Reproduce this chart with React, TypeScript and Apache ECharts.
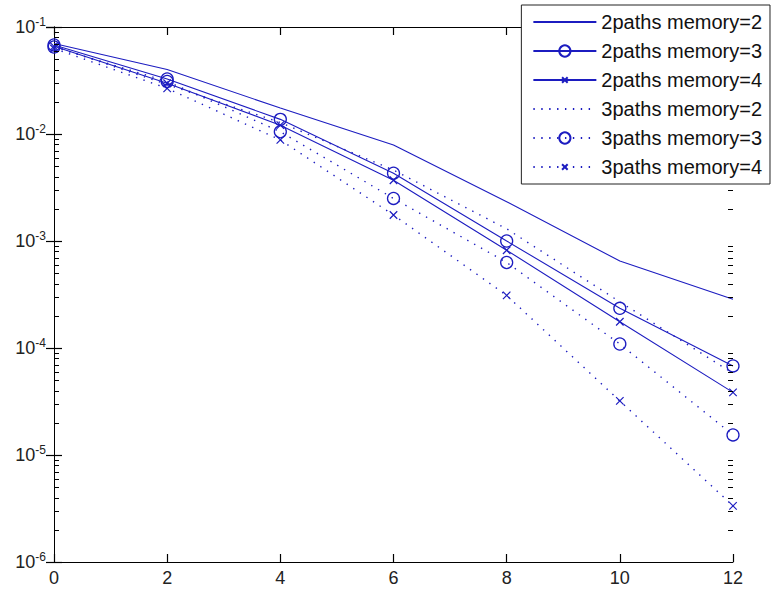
import React, { useEffect, useRef } from "react";
import * as echarts from "echarts";

const xValues = [0, 2, 4, 6, 8, 10, 12];
const p2m2 = [0.07, 0.04, 0.0175, 0.0079, 0.00233, 0.00065, 0.000285];
const p2m3 = [0.068, 0.0327, 0.0137, 0.0043, 0.001, 0.000235, 0.000068];
const p2m4 = [0.066, 0.0298, 0.0121, 0.0037, 0.00082, 0.000176, 0.0000385];
const p3m2 = [0.066, 0.029, 0.0128, 0.0046, 0.0013, 0.00027, 0.000058];
const p3m3 = [0.065, 0.031, 0.0105, 0.0025, 0.00063, 0.000109, 0.0000154];
const p3m4 = [0.063, 0.0267, 0.0088, 0.00175, 0.00031, 0.000032, 0.00000335];

const seriesNames = [
  "2paths memory=2",
  "2paths memory=3",
  "2paths memory=4",
  "3paths memory=2",
  "3paths memory=3",
  "3paths memory=4",
];

const xTicks = [0, 2, 4, 6, 8, 10, 12];
const decadeExponents = [-6, -5, -4, -3, -2];
const minorMultipliers = [2, 3, 4, 5, 6, 7, 8, 9];

const BLUE = "#1c1cc0";
const FONT = "'Liberation Sans', Arial, sans-serif";
// x-mark with invisible padding so the cross takes the central half of the box
const X_SYMBOL = "path://M-5,-5L-5,-5M0,0L10,10M10,0L0,10M15,15L15,15";

function pairs(vals: number[]) {
  return xValues.map((x, i) => [x, vals[i]]);
}

export default function App() {
  const ref = useRef<HTMLDivElement>(null);
  useEffect(() => {
    if (!ref.current) return;
    const chart = echarts.init(ref.current, undefined, { renderer: "svg" });
    const minorTicks: number[][] = [];
    decadeExponents.forEach((e) =>
      minorMultipliers.forEach((m) => minorTicks.push([6, m * Math.pow(10, e)]))
    );
    const solid = { color: BLUE, width: 1.1, type: "solid" as const };
    const dotted = { color: BLUE, width: 1.4, type: [1.4, 6.5] as any };
    const noneItem = { color: "transparent", borderColor: "transparent", borderWidth: 0, opacity: 0 };
    const circleItem = { color: "transparent", borderColor: BLUE, borderWidth: 1.3 };
    const xItem = { color: "transparent", borderColor: BLUE, borderWidth: 1.2 };
    const datasets = [p2m2, p2m3, p2m4, p3m2, p3m3, p3m4];
    const styles = [
      { line: solid, symbol: "none", size: 0, item: noneItem },
      { line: solid, symbol: "circle", size: 12, item: circleItem },
      { line: solid, symbol: X_SYMBOL, size: 15, item: xItem },
      { line: dotted, symbol: "none", size: 0, item: noneItem },
      { line: dotted, symbol: "circle", size: 12, item: circleItem },
      { line: dotted, symbol: X_SYMBOL, size: 15, item: xItem },
    ];
    const lineSeries = datasets.map((d, i) => ({
      name: seriesNames[i],
      type: "line",
      data: pairs(d),
      showSymbol: styles[i].symbol !== "none",
      symbol: styles[i].symbol,
      symbolSize: styles[i].size,
      lineStyle: styles[i].line,
      itemStyle: styles[i].item,
      emphasis: { disabled: true },
      z: 3,
    }));
    const mkAxisLine = () => ({ show: true, lineStyle: { color: "#000", width: 1 } });
    const mkTick = () => ({ show: true, inside: true, length: 8, lineStyle: { color: "#000", width: 1.2 } });
    chart.setOption({
      animation: false,
      backgroundColor: "#fff",
      grid: { left: 54, right: 38, top: 27, bottom: 28, containLabel: false, outerBoundsMode: "none" },
      legend: {
        data: seriesNames,
        orient: "vertical",
        right: 1,
        top: 5,
        padding: [7, 8, 7, 11],
        itemGap: 9,
        itemWidth: 63,
        itemHeight: 14,
        backgroundColor: "#fff",
        borderColor: "#222",
        borderWidth: 1,
        borderRadius: 0,
        textStyle: { fontFamily: FONT, fontSize: 20, color: "#111", lineHeight: 20 },
        selectedMode: false,
        z: 10,
      },
      xAxis: [
        {
          type: "value",
          min: 0,
          max: 12,
          interval: 2,
          position: "bottom",
          axisLine: mkAxisLine(),
          axisTick: mkTick(),
          splitLine: { show: false },
          axisLabel: {
            margin: 7,
            fontFamily: FONT,
            fontSize: 18,
            color: "#222",
            formatter: (v: number) => (xTicks.includes(v) ? String(v) : ""),
          },
        },
        {
          type: "value",
          min: 0,
          max: 12,
          interval: 2,
          position: "top",
          axisLine: mkAxisLine(),
          axisTick: mkTick(),
          splitLine: { show: false },
          axisLabel: { show: false },
        },
      ],
      yAxis: [
        {
          type: "log",
          logBase: 10,
          min: 1e-6,
          max: 1e-1,
          position: "left",
          axisLine: mkAxisLine(),
          axisTick: mkTick(),
          splitLine: { show: false },
          axisLabel: {
            margin: 8,
            formatter: (v: number) => {
              const e = Math.round(Math.log10(v));
              return `{b|10}{s|${e}}`;
            },
            rich: {
              b: { fontFamily: FONT, fontSize: 18, color: "#222", lineHeight: 22 },
              s: { fontFamily: FONT, fontSize: 12, color: "#222", verticalAlign: "top", lineHeight: 12 },
            },
          },
        },
        {
          type: "log",
          logBase: 10,
          min: 1e-6,
          max: 1e-1,
          position: "right",
          axisLine: mkAxisLine(),
          axisTick: mkTick(),
          splitLine: { show: false },
          axisLabel: { show: false },
        },
      ],
      series: [
        ...lineSeries,
        {
          type: "custom",
          silent: true,
          clip: false,
          data: minorTicks,
          z: 4,
          renderItem: (params: any, api: any) => {
            const y = Math.round(api.coord([6, api.value(1)])[1]) + 0.5;
            const cs = params.coordSys;
            const xl = cs.x;
            const xr = cs.x + cs.width;
            return {
              type: "group",
              children: [
                { type: "line", shape: { x1: xl, y1: y, x2: xl + 5, y2: y }, style: { stroke: "#000", lineWidth: 1 } },
                { type: "line", shape: { x1: xr - 5, y1: y, x2: xr, y2: y }, style: { stroke: "#000", lineWidth: 1 } },
              ],
            };
          },
        },
      ],
    });
    return () => chart.dispose();
  }, []);
  return (
    <div
      ref={ref}
      style={{ position: "absolute", left: 0, top: 0, width: 771, height: 590, background: "#fff" }}
    />
  );
}
